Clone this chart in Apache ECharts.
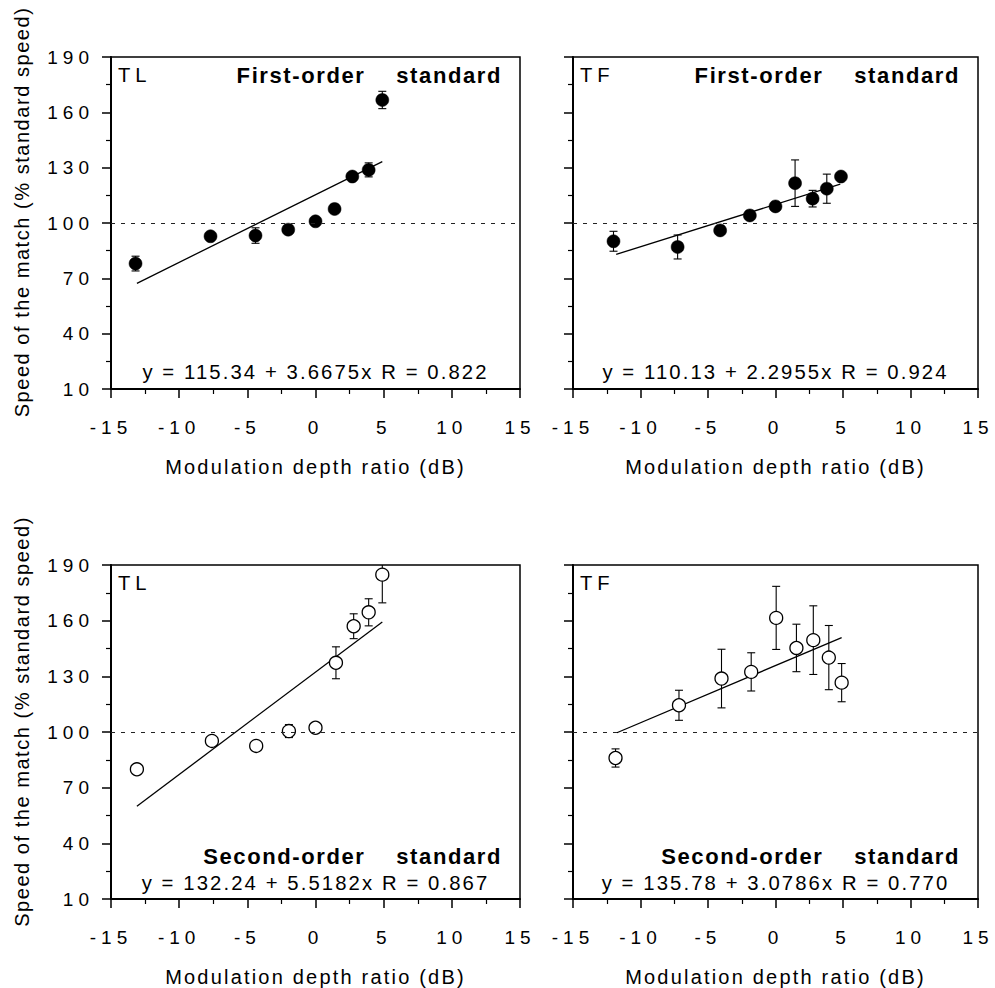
<!DOCTYPE html>
<html><head><meta charset="utf-8">
<script src="https://cdn.jsdelivr.net/npm/echarts@6/dist/echarts.min.js"></script>
<style>
html,body{margin:0;padding:0;background:#fff}
#c{width:995px;height:988px}
#c svg text[style*="19px"]{letter-spacing:5px}
#c svg text[style*="20px"]{letter-spacing:2.2px}
#c svg text[style*="20.1px"]{letter-spacing:1.5px}
#c svg text[style*="20.2px"]{letter-spacing:5px}
#c svg text[style*="20.3px"]{letter-spacing:2.1px}
#c svg text[style*="bold"]{letter-spacing:1.6px}
</style></head><body><div id="c"></div>
<script>
// ---- data ----
const xTicks = [-15, -10, -5, 0, 5, 10, 15];
const yTicks = [10, 40, 70, 100, 130, 160, 190];

const xTL = [-13.2, -7.7, -4.4, -2.0, 0.0, 1.4, 2.7, 3.9, 4.9];
const yTL = [78.0, 92.8, 93.2, 96.4, 100.9, 107.6, 125.2, 128.8, 166.7];
const eTL = [4.0, 0, 4.2, 0, 0, 0, 0, 3.8, 4.7];
const fitTL = [[-13.1, 67.3], [4.9, 133.3]];

const xTF1 = [-12.0, -7.25, -4.1, -1.9, 0.0, 1.45, 2.75, 3.8, 4.85];
const yTF1 = [90.1, 87.0, 96.0, 104.1, 109.0, 121.6, 113.2, 118.6, 125.2];
const eTF1 = [5.4, 6.5, 0, 0, 0, 12.6, 4.5, 7.9, 0];
const fitTF1 = [[-11.8, 83.0], [4.8, 121.1]];

const xTL2 = [-13.1, -7.6, -4.35, -1.95, 0.0, 1.5, 2.8, 3.9, 4.9];
const yTL2 = [79.9, 95.2, 92.5, 100.5, 102.3, 137.3, 157.0, 164.5, 184.8];
const eTL2 = [0, 0, 0, 3.5, 0, 8.6, 6.7, 7.3, 15.2];
const fitTL2 = [[-13.1, 60.0], [4.9, 159.3]];

const xTF2 = [-11.85, -7.15, -4.0, -1.8, 0.05, 1.55, 2.8, 3.95, 4.9];
const yTF2 = [86.0, 114.4, 128.8, 132.4, 161.5, 145.3, 149.5, 140.1, 126.6];
const eTF2 = [4.9, 8.1, 15.8, 10.3, 17.0, 12.8, 18.5, 17.3, 10.3];
const fitTF2 = [[-11.75, 99.6], [4.9, 150.9]];

const panelTags = ['TL', 'TF', 'TL', 'TF'];
const panelTitles = ['First-order    standard', 'First-order    standard', 'Second-order    standard', 'Second-order    standard'];
const equations = ['y = 115.34 + 3.6675x R = 0.822', 'y = 110.13 + 2.2955x R = 0.924',
                   'y = 132.24 + 5.5182x R = 0.867', 'y = 135.78 + 3.0786x R = 0.770'];
const xTitle = 'Modulation depth ratio (dB)';
const yTitle = 'Speed of the match (% standard speed)';

// ---- layout ----
const FF = 'Liberation Sans';
const G = [
  {left: 111, top: 57, width: 409, height: 332},
  {left: 573, top: 57, width: 405, height: 332},
  {left: 111, top: 565, width: 409, height: 335},
  {left: 573, top: 565, width: 405, height: 335}
];
const panels = [
  {x: xTL, y: yTL, e: eTL, fit: fitTL, filled: true},
  {x: xTF1, y: yTF1, e: eTF1, fit: fitTF1, filled: true},
  {x: xTL2, y: yTL2, e: eTL2, fit: fitTL2, filled: false},
  {x: xTF2, y: yTF2, e: eTF2, fit: fitTF2, filled: false}
];
const YMIN = yTicks[0], YMAX = yTicks[yTicks.length - 1];

function renderErr(params, api) {
  const x = api.value(0), lo = api.value(1), hi = api.value(2);
  const p0 = api.coord([x, Math.max(lo, YMIN)]);
  const p1 = api.coord([x, Math.min(hi, YMAX)]);
  const w = 4, st = {stroke: '#000', lineWidth: 1.1};
  const ch = [{type: 'line', shape: {x1: p0[0], y1: p0[1], x2: p1[0], y2: p1[1]}, style: st}];
  if (hi <= YMAX) ch.push({type: 'line', shape: {x1: p1[0] - w, y1: p1[1], x2: p1[0] + w, y2: p1[1]}, style: st});
  if (lo >= YMIN) ch.push({type: 'line', shape: {x1: p0[0] - w, y1: p0[1], x2: p0[0] + w, y2: p0[1]}, style: st});
  return {type: 'group', children: ch};
}

const grids = [], xAxes = [], yAxes = [], series = [], graphics = [];
G.forEach((g, i) => {
  grids.push({left: g.left, top: g.top, width: g.width, height: g.height, show: true,
    borderColor: '#000', borderWidth: 1.5, backgroundColor: 'transparent'});
  xAxes.push({type: 'value', gridIndex: i, min: xTicks[0], max: xTicks[xTicks.length - 1],
    interval: xTicks[1] - xTicks[0],
    axisLine: {show: true, onZero: false, lineStyle: {color: '#000', width: 2}},
    axisTick: {show: true, inside: false, length: 9, lineStyle: {color: '#000', width: 1.5}},
    minorTick: {show: true, splitNumber: 2, length: 5, lineStyle: {color: '#000', width: 1.2}},
    splitLine: {show: false}, minorSplitLine: {show: false},
    axisLabel: {color: '#000', fontFamily: FF, fontSize: 19, margin: 29},
    name: xTitle, nameLocation: 'middle', nameGap: 68,
    nameTextStyle: {color: '#000', fontFamily: FF, fontSize: 20}});
  yAxes.push({type: 'value', gridIndex: i, min: YMIN, max: YMAX, interval: yTicks[1] - yTicks[0],
    axisLine: {show: true, onZero: false, lineStyle: {color: '#000', width: 2}},
    axisTick: {show: true, inside: false, length: 9, lineStyle: {color: '#000', width: 1.5}},
    minorTick: {show: true, splitNumber: 2, length: 5, lineStyle: {color: '#000', width: 1.2}},
    splitLine: {show: false}, minorSplitLine: {show: false},
    axisLabel: {show: i % 2 === 0, color: '#000', fontFamily: FF, fontSize: 19, margin: 17}});

  const p = panels[i];
  series.push({type: 'line', xAxisIndex: i, yAxisIndex: i, data: p.fit, showSymbol: false,
    symbol: 'none', silent: true, z: 2, lineStyle: {color: '#000', width: 1.3},
    markLine: {silent: true, symbol: 'none', label: {show: false},
      lineStyle: {color: '#222', width: 1, type: [4, 6]}, data: [{yAxis: 100}]}});
  const errData = [];
  p.x.forEach((xv, k) => { if (p.e[k] > 0) errData.push([xv, p.y[k] - p.e[k], p.y[k] + p.e[k]]); });
  series.push({type: 'custom', xAxisIndex: i, yAxisIndex: i, z: 3, silent: true,
    renderItem: renderErr, encode: {x: 0, y: [1, 2]}, data: errData});
  series.push({type: 'scatter', xAxisIndex: i, yAxisIndex: i, z: 4, symbol: 'circle', symbolSize: 13,
    silent: true, data: p.x.map((xv, k) => [xv, p.y[k]]),
    itemStyle: p.filled ? {color: '#000', borderColor: '#000', borderWidth: 0.5, opacity: 1}
                        : {color: '#fff', borderColor: '#000', borderWidth: 1.3, opacity: 1}});

  // annotations
  graphics.push({type: 'text', x: g.left + 7, y: g.top + 18, z: 10,
    style: {text: panelTags[i], font: '20.2px ' + FF, fill: '#000', align: 'left', verticalAlign: 'middle',
      textAlign: 'left', textVerticalAlign: 'middle'}});
  const ty = i < 2 ? g.top + 18 : g.top + g.height - 44;
  graphics.push({type: 'text', x: g.left + g.width - 18, y: ty, z: 10,
    style: {text: panelTitles[i], font: 'bold 22px ' + FF, fill: '#000', align: 'right', verticalAlign: 'middle',
      textAlign: 'right', textVerticalAlign: 'middle'}});
  graphics.push({type: 'text', x: g.left + g.width / 2, y: g.top + g.height - 17, z: 10,
    style: {text: equations[i], font: '20.3px ' + FF, fill: '#000', align: 'center', verticalAlign: 'middle',
      textAlign: 'center', textVerticalAlign: 'middle'}});
  if (i % 2 === 0) {
    graphics.push({type: 'text', x: 22, y: g.top + g.height / 2 - 11, rotation: Math.PI / 2, z: 10,
      style: {text: yTitle, font: '20.1px ' + FF, fill: '#000', align: 'center', verticalAlign: 'middle',
        textAlign: 'center', textVerticalAlign: 'middle'}});
  }
});

const chart = echarts.init(document.getElementById('c'), null, {renderer: 'svg', width: 995, height: 988});
chart.setOption({
  backgroundColor: '#fff', animation: false,
  grid: grids, xAxis: xAxes, yAxis: yAxes, series: series, graphic: {elements: graphics}
});
</script></body></html>
